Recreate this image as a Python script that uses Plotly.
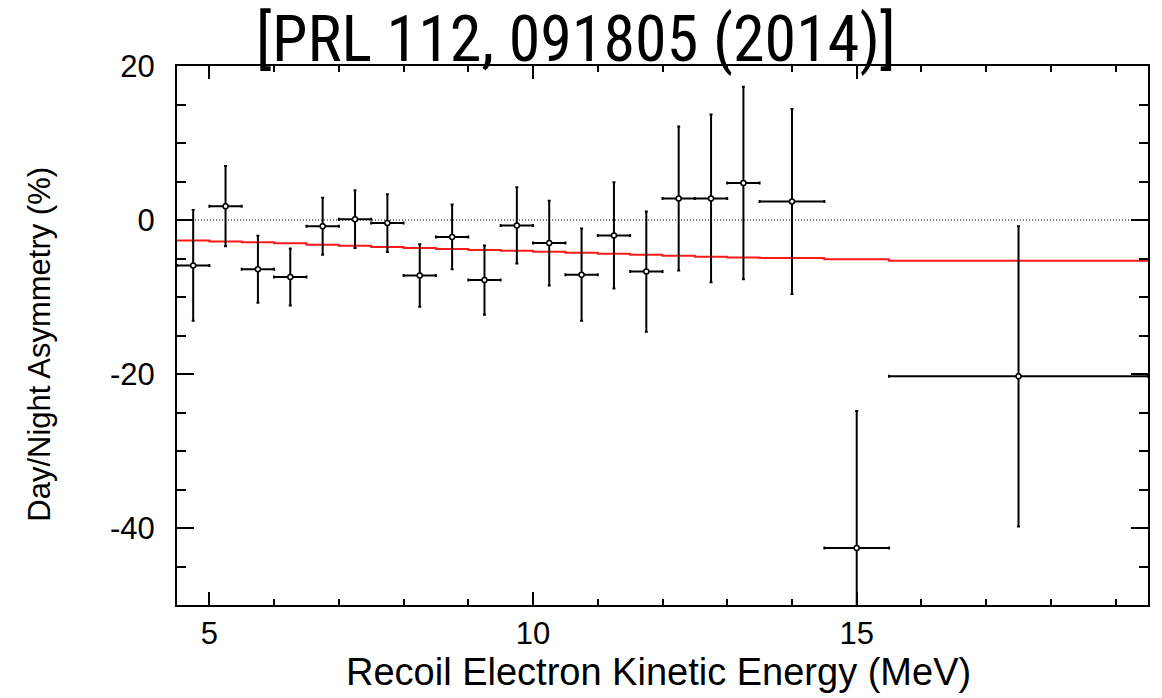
import plotly.graph_objects as go

# Day/night asymmetry per recoil-electron energy bin (%)
energy = [4.75, 5.25, 5.75, 6.25, 6.75, 7.25, 7.75, 8.25, 8.75, 9.25, 9.75,
          10.25, 10.75, 11.25, 11.75, 12.25, 12.75, 13.25, 14.0, 15.0, 17.5]
bin_half_width = [0.25] * 18 + [0.5, 0.5, 2.0]
asymmetry = [-5.9, 1.8, -6.4, -7.4, -0.8, 0.1, -0.4, -7.2, -2.2, -7.8, -0.7,
             -3.0, -7.1, -2.0, -6.7, 2.8, 2.8, 4.8, 2.4, -42.6, -20.3]
asym_err = [7.2, 5.2, 4.35, 3.7, 3.7, 3.75, 3.75, 4.05, 4.2, 4.5, 4.95,
            5.5, 6.0, 6.9, 7.8, 9.35, 10.9, 12.5, 12.0, 17.8, 19.5]

# Expected asymmetry, piecewise constant over bins (left edges + final edge)
pred_edges = [4.5, 5.0, 5.5, 6.0, 6.5, 7.0, 7.5, 8.0, 8.5, 9.0, 9.5, 10.0,
              10.5, 11.0, 11.5, 12.0, 12.5, 13.0, 13.5, 14.5, 15.5, 19.5]
pred_values = [-2.65, -2.78, -2.9, -3.03, -3.2, -3.34, -3.5, -3.64, -3.77,
               -3.9, -4.0, -4.12, -4.25, -4.38, -4.5, -4.63, -4.76, -4.86,
               -4.95, -5.1, -5.3]

x_range = [4.5, 19.5]
y_range = [-50, 20]
x_tickvals = [5, 10, 15]
x_ticktext = ["5", "10", "15"]
y_tickvals = [20, 0, -20, -40]
y_ticktext = ["20", "0", "-20", "-40"]

title_text = "[PRL 112, 091805 (2014)]"
x_title = "Recoil Electron Kinetic Energy (MeV)"
y_title = "Day/Night Asymmetry (%)"

fig = go.Figure()

# zero reference line
fig.add_trace(go.Scatter(
    x=x_range, y=[0, 0], mode="lines",
    line=dict(color="black", width=1, dash="1px,2px"),
    hoverinfo="skip", showlegend=False))

# expected asymmetry as a step histogram
fig.add_trace(go.Scatter(
    x=pred_edges, y=pred_values + [pred_values[-1]], mode="lines",
    line=dict(color="#ff1a1a", width=2, shape="hv"),
    showlegend=False))

# measured points with energy-bin and statistical error bars
fig.add_trace(go.Scatter(
    x=energy, y=asymmetry, mode="markers",
    marker=dict(symbol="circle", size=5, color="white",
                line=dict(color="black", width=1.5)),
    error_y=dict(type="data", array=asym_err, color="black",
                 thickness=2, width=1.5),
    error_x=dict(type="data", array=bin_half_width, color="black",
                 thickness=2, width=1.5),
    showlegend=False))

tick_font = dict(family="Liberation Sans, Arial, Helvetica, sans-serif",
                 size=31, color="black")

fig.update_xaxes(
    range=x_range, showgrid=False, zeroline=False,
    showline=True, linecolor="black", linewidth=2, mirror="allticks",
    ticks="inside", ticklen=13, tickwidth=2, tickcolor="black",
    tickmode="array", tickvals=x_tickvals, ticktext=x_ticktext,
    tickfont=tick_font, ticklabelstandoff=0,
    minor=dict(ticks="inside", ticklen=6, tickwidth=1.5, tickcolor="black",
               tick0=0, dtick=1, showgrid=False))

fig.update_yaxes(
    range=y_range, showgrid=False, zeroline=False,
    showline=True, linecolor="black", linewidth=2, mirror="allticks",
    ticks="inside", ticklen=17, tickwidth=1.5, tickcolor="black",
    tickmode="array", tickvals=y_tickvals, ticktext=y_ticktext,
    tickfont=tick_font, ticklabelstandoff=14,
    minor=dict(ticks="inside", ticklen=9, tickwidth=1.5, tickcolor="black",
               tick0=0, dtick=5, showgrid=False))

fig.add_annotation(
    text=x_title, xref="paper", yref="paper", x=0.496, y=-0.125,
    xanchor="center", yanchor="middle", showarrow=False,
    font=dict(family="Liberation Sans, Arial, Helvetica, sans-serif",
              size=38, color="black"))

fig.add_annotation(
    text=y_title, xref="paper", yref="paper", x=-0.141, y=0.483,
    xanchor="center", yanchor="middle", textangle=-90, showarrow=False,
    font=dict(family="Liberation Sans, Arial, Helvetica, sans-serif",
              size=31, color="black"))

fig.add_annotation(
    text=title_text, xref="paper", yref="paper", x=0.411, y=1.05,
    xanchor="center", yanchor="middle", showarrow=False,
    font=dict(family="Liberation Sans Narrow, Arial Narrow, Roboto Condensed, "
                     "Liberation Sans, sans-serif",
              size=64, color="black"))

fig.update_layout(
    width=1162, height=698,
    margin=dict(l=177, r=14, t=66, b=93),
    paper_bgcolor="white", plot_bgcolor="white",
    showlegend=False)

fig.write_html("out.html")
